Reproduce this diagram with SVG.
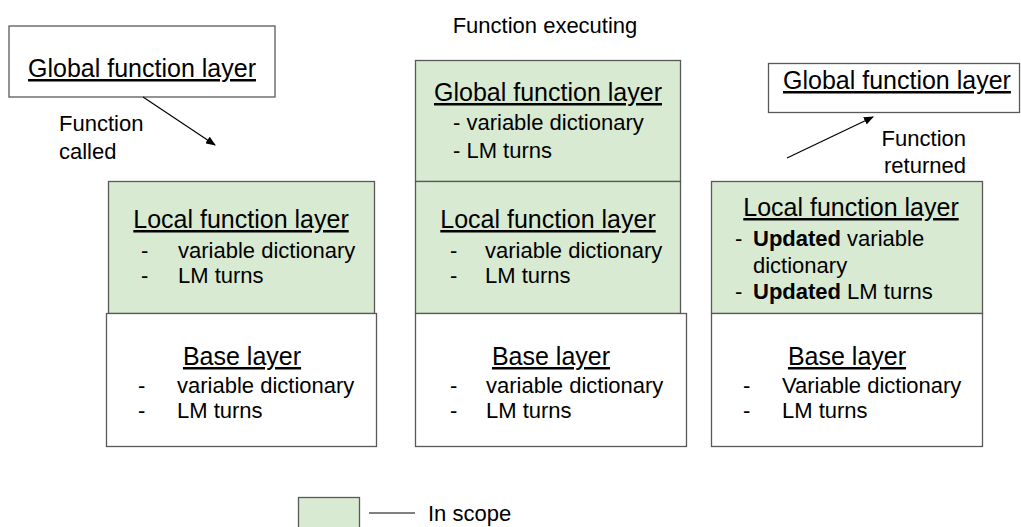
<svg xmlns="http://www.w3.org/2000/svg" width="1021" height="527" viewBox="0 0 1021 527">
<defs>
<style>
.box{stroke:#595959;stroke-width:1.3;}
.g{fill:#d9ead3;}
.w{fill:#ffffff;}
text{font-family:"Liberation Sans",Arial,sans-serif;fill:#000;}
.h{font-size:25px;text-decoration:underline;}
.t{font-size:22px;}
.b{font-weight:bold;}
.conn{stroke:#000;stroke-width:1.2;fill:none;}
</style>
<marker id="arr" markerWidth="10" markerHeight="8" refX="9" refY="4" orient="auto" markerUnits="userSpaceOnUse">
<path d="M0,0 L10,4 L0,8 z" fill="#000"/>
</marker>
</defs>
<rect width="1021" height="527" fill="#fff"/>

<text class="t" x="545" y="33" text-anchor="middle">Function executing</text>

<g id="left-global">
<rect class="box w" x="9" y="26" width="266" height="71"/>
<text class="h" x="142" y="77" text-anchor="middle">Global function layer</text>
</g>
<g id="left-local">
<rect class="box g" x="108.5" y="181.5" width="266" height="132"/>
<text class="h" x="241" y="228" text-anchor="middle">Local function layer</text>
<text class="t" x="141" y="258">-</text>
<text class="t" x="178" y="258">variable dictionary</text>
<text class="t" x="141" y="283">-</text>
<text class="t" x="178" y="283">LM turns</text>
</g>
<g id="left-base">
<rect class="box w" x="106.5" y="313.5" width="270" height="133"/>
<text class="h" x="242" y="365" text-anchor="middle">Base layer</text>
<text class="t" x="138" y="393">-</text>
<text class="t" x="177" y="393">variable dictionary</text>
<text class="t" x="138" y="418">-</text>
<text class="t" x="177" y="418">LM turns</text>
</g>
<text class="t" x="59" y="131">Function</text>
<text class="t" x="59" y="159">called</text>

<g id="mid-global">
<rect class="box g" x="415.5" y="60.5" width="265" height="121"/>
<text class="h" x="548" y="101" text-anchor="middle">Global function layer</text>
<text class="t" x="453" y="130">- variable dictionary</text>
<text class="t" x="453" y="158">- LM turns</text>
</g>
<g id="mid-local">
<rect class="box g" x="415.5" y="181.5" width="265" height="132"/>
<text class="h" x="548" y="228" text-anchor="middle">Local function layer</text>
<text class="t" x="450" y="258">-</text>
<text class="t" x="485" y="258">variable dictionary</text>
<text class="t" x="450" y="283">-</text>
<text class="t" x="485" y="283">LM turns</text>
</g>
<g id="mid-base">
<rect class="box w" x="415.5" y="313.5" width="271" height="133"/>
<text class="h" x="551" y="365" text-anchor="middle">Base layer</text>
<text class="t" x="450" y="393">-</text>
<text class="t" x="486" y="393">variable dictionary</text>
<text class="t" x="450" y="418">-</text>
<text class="t" x="486" y="418">LM turns</text>
</g>

<g id="right-global">
<rect class="box w" x="768.5" y="63.5" width="251" height="49"/>
<text class="h" x="783" y="89" font-size="25.5">Global function layer</text>
</g>
<g id="right-local">
<rect class="box g" x="711.5" y="181.5" width="271" height="132"/>
<text class="h" x="851" y="216" text-anchor="middle">Local function layer</text>
<text class="t" x="735" y="246">-</text>
<text class="t" x="753" y="246"><tspan class="b">Updated</tspan> variable</text>
<text class="t" x="753" y="273">dictionary</text>
<text class="t" x="735" y="299">-</text>
<text class="t" x="753" y="299"><tspan class="b">Updated</tspan> LM turns</text>
</g>
<g id="right-base">
<rect class="box w" x="711.5" y="313.5" width="271" height="133"/>
<text class="h" x="847" y="365" text-anchor="middle">Base layer</text>
<text class="t" x="743" y="393">-</text>
<text class="t" x="782" y="393">Variable dictionary</text>
<text class="t" x="743" y="418">-</text>
<text class="t" x="782" y="418">LM turns</text>
</g>
<text class="t" x="966" y="146" text-anchor="end">Function</text>
<text class="t" x="966" y="173" text-anchor="end">returned</text>

<g id="connectors">
<line class="conn" x1="143" y1="97" x2="215" y2="145" marker-end="url(#arr)"/>
<line class="conn" x1="787" y1="158" x2="873" y2="117" marker-end="url(#arr)"/>
</g>

<g id="legend">
<rect class="box g" x="298.5" y="497.5" width="61" height="35"/>
<line x1="369" y1="513" x2="415" y2="513" stroke="#000" stroke-width="1"/>
<text class="t" x="428" y="521">In scope</text>
</g>
</svg>
